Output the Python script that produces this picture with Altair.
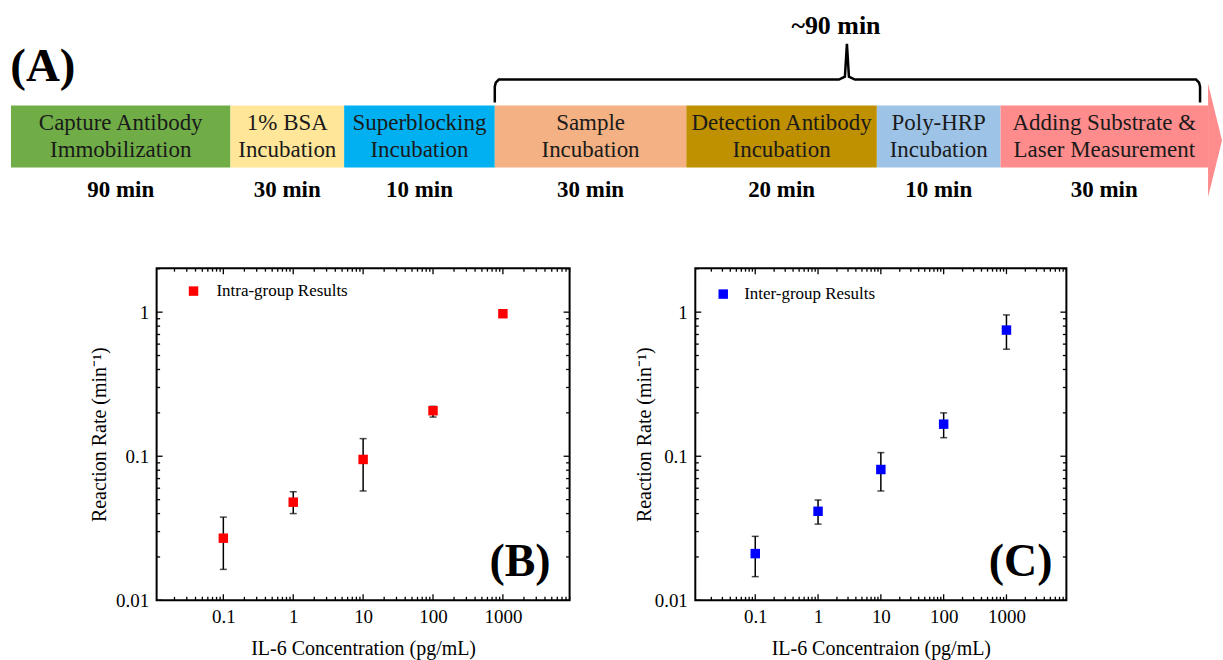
import altair as alt
import pandas as pd

FONT = "Liberation Serif"

# ---------------- (A) timeline data ----------------
step_labels = [
    "Capture Antibody\nImmobilization",
    "1% BSA\nIncubation",
    "Superblocking\nIncubation",
    "Sample\nIncubation",
    "Detection Antibody\nIncubation",
    "Poly-HRP\nIncubation",
    "Adding Substrate &\nLaser Measurement",
]
step_times = ["90 min", "30 min", "10 min", "30 min", "20 min", "10 min", "30 min"]
step_edges = [8, 228, 342, 493, 685, 876, 1000, 1208]
step_colors = ["#70AD47", "#FFE699", "#00B0F0", "#F4B183", "#BF9000", "#9DC3E6", "#FF8C8C"]
bar_top, bar_bottom, label_first_line, time_row = 105, 167, 123, 190
arrow_x = [1208, 1222]
arrow_top = [83, 140]
arrow_bottom = [197, 140]
bracket_x = [493, 493, 494, 497, 838, 844, 846, 848, 854, 1196, 1199, 1200, 1200]
bracket_y = [102, 86, 82, 79, 79, 76, 43, 76, 79, 79, 82, 86, 102]

# ---------------- (B), (C) data ----------------
conc = [0.1, 1, 10, 100, 1000]
intra_rate = [0.027, 0.048, 0.095, 0.207, 0.975]
intra_lo = [0.0164, 0.040, 0.0574, 0.187, 0.96]
intra_hi = [0.0378, 0.0567, 0.1325, 0.222, 0.99]
inter_rate = [0.0211, 0.0415, 0.0809, 0.167, 0.751]
inter_lo = [0.0146, 0.0338, 0.0574, 0.1345, 0.553]
inter_hi = [0.0278, 0.0497, 0.106, 0.200, 0.957]

x_ticks = [0.1, 1, 10, 100, 1000]
y_ticks = [0.01, 0.1, 1]
X_DOMAIN = [0.0111, 9000]
Y_DOMAIN = [0.01, 2.02]
x_minor = [m * d for d in [0.01, 0.1, 1, 10, 100, 1000] for m in range(2, 10)
           if X_DOMAIN[0] <= m * d <= X_DOMAIN[1]]
y_minor = [m * d for d in [0.01, 0.1, 1] for m in range(2, 10) if m * d <= Y_DOMAIN[1]]

# ---------------- timeline chart ----------------
TW, TH = 1223, 200
xs = alt.Scale(domain=[0, TW], nice=False, zero=False)
ys = alt.Scale(domain=[0, TH], nice=False, zero=False, reverse=True)

seg = pd.DataFrame({
    "label": step_labels,
    "time": step_times,
    "x0": step_edges[:-1],
    "x1": step_edges[1:],
    "color": step_colors,
})
seg["xc"] = (seg["x0"] + seg["x1"]) / 2
seg["top"] = bar_top
seg["bottom"] = bar_bottom
seg["mid"] = label_first_line
seg["trow"] = time_row

bars = alt.Chart(seg).mark_rect().encode(
    x=alt.X("x0:Q", scale=xs, axis=None),
    x2="x1:Q",
    y=alt.Y("top:Q", scale=ys, axis=None),
    y2="bottom:Q",
    color=alt.Color("color:N", scale=None),
)
arrow_df = pd.DataFrame({"x": arrow_x, "top": arrow_top, "bottom": arrow_bottom})
arrow = alt.Chart(arrow_df).mark_area(color=step_colors[-1], opacity=1).encode(
    x=alt.X("x:Q", scale=xs, axis=None),
    y=alt.Y("top:Q", scale=ys, axis=None),
    y2="bottom:Q",
)
labels = alt.Chart(seg).mark_text(
    font=FONT, fontSize=23, lineBreak="\n", lineHeight=27, color="#1a1a1a",
    align="center", baseline="middle",
).encode(
    x=alt.X("xc:Q", scale=xs, axis=None),
    y=alt.Y("mid:Q", scale=ys, axis=None),
    text="label:N",
)
times = alt.Chart(seg).mark_text(
    font=FONT, fontSize=23, fontWeight="bold", color="black",
    align="center", baseline="middle",
).encode(
    x=alt.X("xc:Q", scale=xs, axis=None),
    y=alt.Y("trow:Q", scale=ys, axis=None),
    text="time:N",
)
br_df = pd.DataFrame({"x": bracket_x, "y": bracket_y, "i": list(range(len(bracket_x)))})
bracket = alt.Chart(br_df).mark_line(color="black", strokeWidth=2.5).encode(
    x=alt.X("x:Q", scale=xs, axis=None),
    y=alt.Y("y:Q", scale=ys, axis=None),
    order="i:Q",
)
ann_df = pd.DataFrame({"x": [40, 835], "y": [66, 25], "t": ["(A)", "~90 min"], "fs": [47, 26]})
ann = alt.Chart(ann_df).mark_text(
    font=FONT, fontWeight="bold", color="black", align="center", baseline="middle"
).encode(
    x=alt.X("x:Q", scale=xs, axis=None),
    y=alt.Y("y:Q", scale=ys, axis=None),
    text="t:N",
    size=alt.Size("fs:Q", scale=None, legend=None),
)
timeline = alt.layer(bars, arrow, labels, times, bracket, ann).properties(
    width=TW, height=TH, view=alt.ViewBackground(stroke="transparent", strokeWidth=0)
)

# ---------------- panels ----------------
PH = 333
MAJ, MIN = 6, 3.5


def panel(rate, lo, hi, color, series, letter, xtitle, W, ytp, sq_x, sq_y, txt_x, tag_r):
    df = pd.DataFrame({"conc": conc, "rate": rate, "lo": lo, "hi": hi})
    xsc = alt.Scale(type="log", domain=X_DOMAIN, nice=False)
    ysc = alt.Scale(type="log", domain=Y_DOMAIN, nice=False)
    xaxis = alt.Axis(
        values=x_ticks, format="~g", ticks=False, tickSize=0, domain=False, grid=False,
        labelFont=FONT, labelFontSize=19, labelColor="black", labelPadding=7,
        title=xtitle, titleFont=FONT, titleFontSize=20, titleFontWeight="normal",
        titleColor="black", titlePadding=12,
    )
    yaxis = alt.Axis(
        values=y_ticks, format="~g", ticks=False, tickSize=0, domain=False, grid=False,
        labelFont=FONT, labelFontSize=19, labelColor="black", labelPadding=8,
        title="Reaction Rate (min⁻¹)", titleFont=FONT, titleFontSize=20,
        titleFontWeight="normal", titleColor="black", titlePadding=ytp,
    )
    err = alt.Chart(df).mark_rule(color="black", strokeWidth=1.5).encode(
        x=alt.X("conc:Q", scale=xsc, axis=xaxis),
        y=alt.Y("lo:Q", scale=ysc, axis=yaxis),
        y2="hi:Q",
    )
    cap_hi = alt.Chart(df).mark_tick(color="black", orient="horizontal", size=7, thickness=1.5).encode(
        x=alt.X("conc:Q", scale=xsc, axis=xaxis), y=alt.Y("hi:Q", scale=ysc, axis=yaxis)
    )
    cap_lo = alt.Chart(df).mark_tick(color="black", orient="horizontal", size=7, thickness=1.5).encode(
        x=alt.X("conc:Q", scale=xsc, axis=xaxis), y=alt.Y("lo:Q", scale=ysc, axis=yaxis)
    )
    pts = alt.Chart(df).mark_square(size=90, opacity=1, color=color).encode(
        x=alt.X("conc:Q", scale=xsc, axis=xaxis),
        y=alt.Y("rate:Q", scale=ysc, axis=yaxis),
    )
    xt = pd.DataFrame({"conc": x_ticks})
    xm = pd.DataFrame({"conc": x_minor})
    yt = pd.DataFrame({"lo": y_ticks})
    ym = pd.DataFrame({"lo": y_minor})
    tick_layers = []
    for d, L in [(xt, MAJ), (xm, MIN)]:
        tick_layers.append(alt.Chart(d).mark_rule(color="black", strokeWidth=1.3).encode(
            x=alt.X("conc:Q", scale=xsc, axis=xaxis), y=alt.value(PH), y2=alt.value(PH - L)))
        tick_layers.append(alt.Chart(d).mark_rule(color="black", strokeWidth=1.3).encode(
            x=alt.X("conc:Q", scale=xsc, axis=xaxis), y=alt.value(0), y2=alt.value(L)))
    for d, L in [(yt, MAJ), (ym, MIN)]:
        tick_layers.append(alt.Chart(d).mark_rule(color="black", strokeWidth=1.3).encode(
            y=alt.Y("lo:Q", scale=ysc, axis=yaxis), x=alt.value(0), x2=alt.value(L)))
        tick_layers.append(alt.Chart(d).mark_rule(color="black", strokeWidth=1.3).encode(
            y=alt.Y("lo:Q", scale=ysc, axis=yaxis), x=alt.value(W), x2=alt.value(W - L)))
    leg_df = pd.DataFrame({"t": [series]})
    leg_sq = alt.Chart(leg_df).mark_square(size=90, opacity=1, color=color).encode(
        x=alt.value(sq_x), y=alt.value(sq_y))
    leg_txt = alt.Chart(leg_df).mark_text(
        font=FONT, fontSize=17, color="black", align="left", baseline="middle"
    ).encode(x=alt.value(txt_x), y=alt.value(sq_y), text="t:N")
    tag = alt.Chart(pd.DataFrame({"t": [letter]})).mark_text(
        font=FONT, fontSize=46, fontWeight="bold", color="black", align="right", baseline="middle"
    ).encode(x=alt.value(W - tag_r), y=alt.value(PH - 38), text="t:N")
    return alt.layer(err, cap_hi, cap_lo, *tick_layers, pts, leg_sq, leg_txt, tag).properties(
        width=W, height=PH, view=alt.ViewBackground(stroke="black", strokeWidth=2)
    )


panel_b = panel(intra_rate, intra_lo, intra_hi, "#FF0000", "Intra-group Results", "(B)",
                "IL-6 Concentration (pg/mL)", 414, 6, 37, 23, 60, 19)
panel_c = panel(inter_rate, inter_lo, inter_hi, "#0000FF", "Inter-group Results", "(C)",
                "IL-6 Concentraion (pg/mL)", 372, 0, 28, 26, 49, 14)

spacer = alt.Chart(pd.DataFrame({"s": [0]})).mark_point(opacity=0).encode(
    x=alt.value(0), y=alt.value(0)
).properties(width=28, height=PH, view=alt.ViewBackground(stroke="transparent", strokeWidth=0))

row = alt.hconcat(spacer, panel_b, panel_c, spacing=126, bounds="flush")
chart = alt.vconcat(timeline, row, spacing=68, bounds="flush").properties(
    padding=0, background="white"
).configure_view(stroke="transparent", strokeWidth=0)

chart.save("out.html", embed_options={"renderer": "svg", "actions": False})
